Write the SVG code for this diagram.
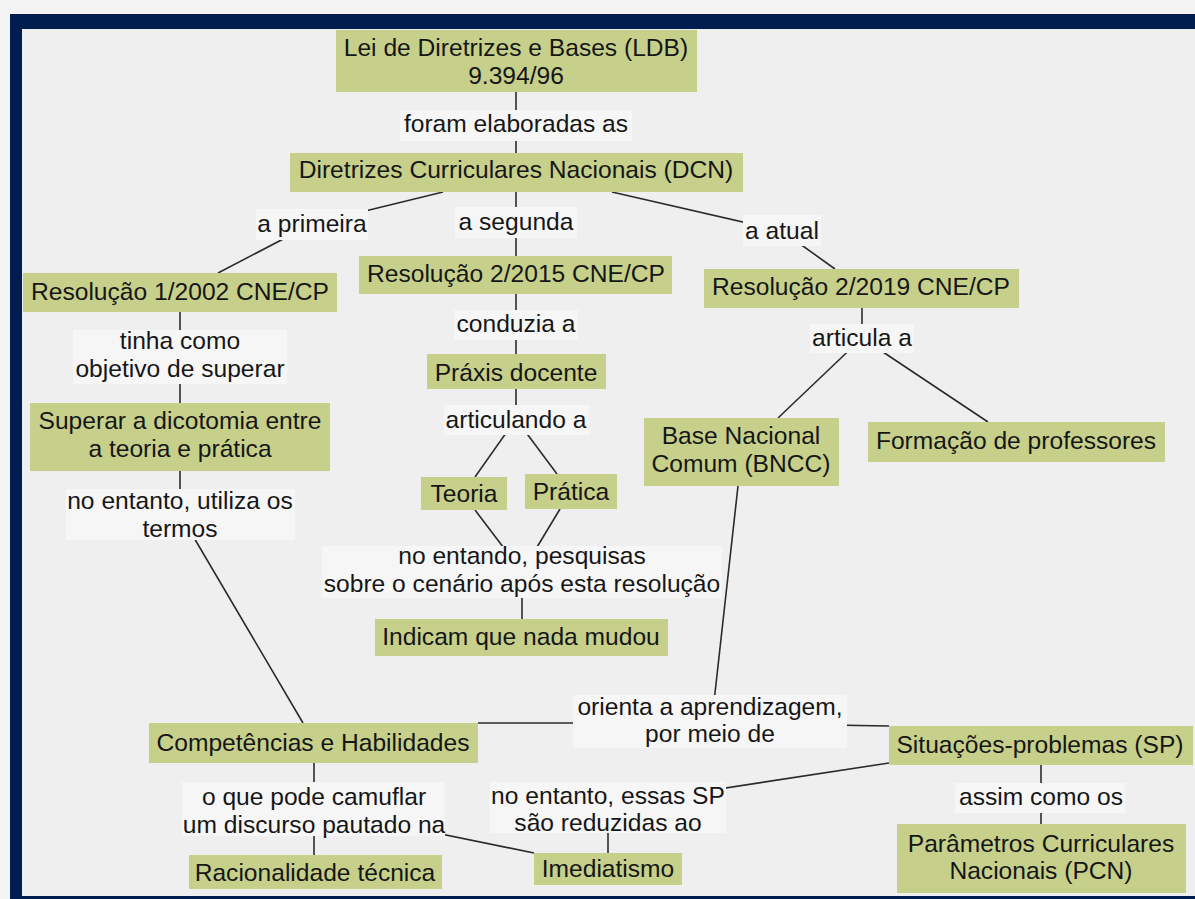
<svg xmlns="http://www.w3.org/2000/svg" width="1195" height="899" viewBox="0 0 1195 899">
<style>
  .node rect { fill: #c6d08b; }
  .lbl rect { fill: #f6f6f6; }
  text { font-family: "Liberation Sans", Arial, sans-serif; font-size: 24.6px; fill: #161616; text-anchor: middle; }
  #connectors line, #connectors polyline { stroke: #2b2b2b; stroke-width: 1.6; fill: none; }
</style>
<rect x="0" y="0" width="1195" height="899" fill="#f3f3f3"/>
<rect x="10" y="14" width="1185" height="885" fill="#001d50"/>
<rect x="22" y="29" width="1173" height="867" fill="#efefef"/>

<g id="connectors">
  <line x1="516" y1="92" x2="516" y2="153"/>
  <polyline points="443,192 312,224 218,273"/>
  <line x1="516" y1="192" x2="516" y2="256"/>
  <polyline points="612,192 782,231 835,269"/>
  <line x1="180" y1="312" x2="180" y2="403"/>
  <polyline points="180,471 180,514 303,723"/>
  <line x1="516" y1="294" x2="516" y2="354"/>
  <line x1="516" y1="389" x2="516" y2="419"/>
  <line x1="516" y1="419" x2="475" y2="477"/>
  <line x1="516" y1="419" x2="557" y2="474"/>
  <line x1="475" y1="510" x2="522" y2="572"/>
  <line x1="560" y1="509" x2="522" y2="572"/>
  <line x1="522" y1="598" x2="522" y2="619"/>
  <line x1="862" y1="308" x2="862" y2="338"/>
  <line x1="862" y1="338" x2="778" y2="418"/>
  <line x1="862" y1="338" x2="988" y2="422"/>
  <line x1="738" y1="486" x2="712" y2="720"/>
  <polyline points="478,723 710,723 889,726"/>
  <line x1="889" y1="763" x2="608" y2="806"/>
  <line x1="608" y1="832" x2="608" y2="853"/>
  <line x1="314" y1="763" x2="314" y2="855"/>
  <line x1="314" y1="808" x2="534" y2="853"/>
  <line x1="1041" y1="765" x2="1041" y2="824"/>

  <g class="lbl" id="lbl-foram"><rect x="400" y="110" width="232" height="31"/><text x="516" y="132">foram elaboradas as</text></g>
  <g class="lbl" id="lbl-primeira"><rect x="256" y="209" width="112" height="31"/><text x="312" y="232">a primeira</text></g>
  <g class="lbl" id="lbl-segunda"><rect x="455" y="207" width="122" height="31"/><text x="516" y="230">a segunda</text></g>
  <g class="lbl" id="lbl-atual"><rect x="743" y="215" width="78" height="31"/><text x="782" y="239">a atual</text></g>
  <g class="lbl" id="lbl-tinha"><rect x="73" y="330" width="214" height="54"/><text x="180" y="349">tinha como</text><text x="180" y="377">objetivo de superar</text></g>
  <g class="lbl" id="lbl-utiliza"><rect x="66" y="489" width="229" height="51"/><text x="180" y="509">no entanto, utiliza os</text><text x="180" y="537">termos</text></g>
  <g class="lbl" id="lbl-conduzia"><rect x="454" y="310" width="124" height="30"/><text x="516" y="332">conduzia a</text></g>
  <g class="lbl" id="lbl-articulando"><rect x="444" y="405" width="145" height="30"/><text x="516" y="428">articulando a</text></g>
  <g class="lbl" id="lbl-pesquisas"><rect x="322" y="546" width="400" height="52"/><text x="522" y="564">no entando, pesquisas</text><text x="522" y="592">sobre o cenário após esta resolução</text></g>
  <g class="lbl" id="lbl-articula"><rect x="810" y="324" width="104" height="29"/><text x="862" y="346">articula a</text></g>
  <g class="lbl" id="lbl-orienta"><rect x="573" y="695" width="274" height="53"/><text x="710" y="715">orienta a aprendizagem,</text><text x="710" y="742">por meio de</text></g>
  <g class="lbl" id="lbl-camuflar"><rect x="182" y="782" width="263" height="54"/><text x="314" y="805">o que pode camuflar</text><text x="314" y="833">um discurso pautado na</text></g>
  <g class="lbl" id="lbl-essas"><rect x="490" y="782" width="236" height="51"/><text x="608" y="804">no entanto, essas SP</text><text x="608" y="831">são reduzidas ao</text></g>
  <g class="lbl" id="lbl-assim"><rect x="955" y="783" width="170" height="30"/><text x="1041" y="805">assim como os</text></g>
</g>

<g class="node" id="n-ldb"><rect x="336" y="30" width="361" height="62"/><text x="516" y="56">Lei de Diretrizes e Bases (LDB)</text><text x="516" y="84">9.394/96</text></g>
<g class="node" id="n-dcn"><rect x="290" y="153" width="453" height="39"/><text x="516" y="178">Diretrizes Curriculares Nacionais (DCN)</text></g>
<g class="node" id="n-res1"><rect x="23" y="273" width="314" height="39"/><text x="180" y="300">Resolução 1/2002 CNE/CP</text></g>
<g class="node" id="n-res2"><rect x="359" y="256" width="313" height="38"/><text x="516" y="282">Resolução 2/2015 CNE/CP</text></g>
<g class="node" id="n-res3"><rect x="704" y="269" width="315" height="39"/><text x="861" y="295">Resolução 2/2019 CNE/CP</text></g>
<g class="node" id="n-superar"><rect x="30" y="403" width="300" height="68"/><text x="180" y="429">Superar a dicotomia entre</text><text x="180" y="457">a teoria e prática</text></g>
<g class="node" id="n-praxis"><rect x="427" y="354" width="179" height="35"/><text x="516" y="381">Práxis docente</text></g>
<g class="node" id="n-teoria"><rect x="421" y="477" width="86" height="33"/><text x="464" y="502">Teoria</text></g>
<g class="node" id="n-pratica"><rect x="525" y="474" width="92" height="35"/><text x="571" y="500">Prática</text></g>
<g class="node" id="n-indicam"><rect x="375" y="619" width="293" height="37"/><text x="521" y="645">Indicam que nada mudou</text></g>
<g class="node" id="n-bncc"><rect x="644" y="418" width="195" height="68"/><text x="741" y="444">Base Nacional</text><text x="741" y="472">Comum (BNCC)</text></g>
<g class="node" id="n-formacao"><rect x="868" y="422" width="297" height="40"/><text x="1016" y="449">Formação de professores</text></g>
<g class="node" id="n-comp"><rect x="149" y="723" width="329" height="40"/><text x="313" y="751">Competências e Habilidades</text></g>
<g class="node" id="n-sp"><rect x="889" y="726" width="304" height="39"/><text x="1040" y="753">Situações-problemas (SP)</text></g>
<g class="node" id="n-racional"><rect x="189" y="855" width="253" height="34"/><text x="315" y="881">Racionalidade técnica</text></g>
<g class="node" id="n-imed"><rect x="534" y="853" width="148" height="32"/><text x="608" y="877">Imediatismo</text></g>
<g class="node" id="n-pcn"><rect x="897" y="824" width="289" height="69"/><text x="1041" y="852">Parâmetros Curriculares</text><text x="1041" y="879">Nacionais (PCN)</text></g>
</svg>
